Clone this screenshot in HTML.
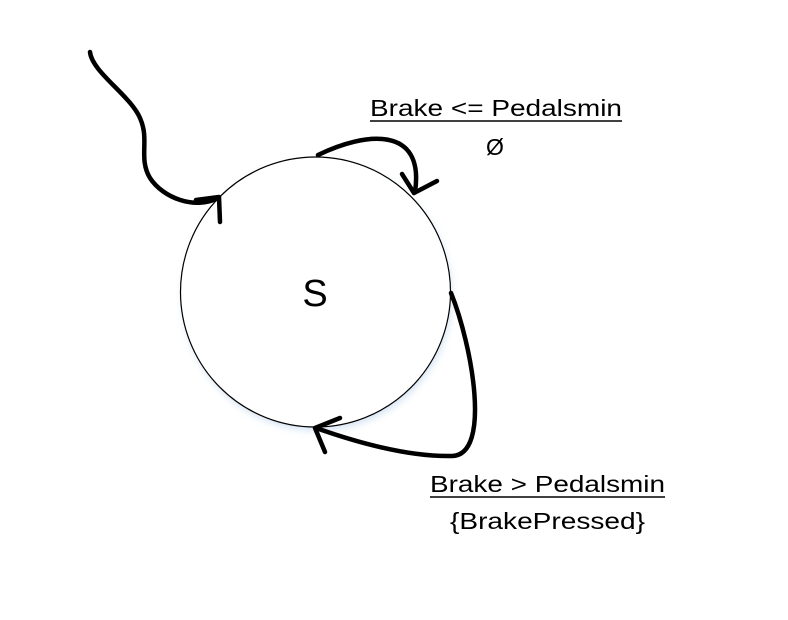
<!DOCTYPE html>
<html><head><meta charset="utf-8"><style>
html,body{margin:0;padding:0;background:#fff;width:788px;height:620px;overflow:hidden}
svg{display:block}
text{font-family:"Liberation Sans",sans-serif;fill:#000}
</style></head><body>
<svg width="788" height="620" viewBox="0 0 788 620">
<defs>
<filter id="sh" x="-20%" y="-20%" width="140%" height="140%">
<feGaussianBlur stdDeviation="4"/>
</filter>
</defs>
<circle cx="317" cy="296" r="134" fill="#bcd3ec" filter="url(#sh)" opacity="0.7"/>
<circle cx="315.5" cy="292" r="135" fill="#fff" stroke="#000" stroke-width="1.2"/>
<text x="315" y="306" font-size="38" text-anchor="middle">S</text>

<g fill="none" stroke="#000" stroke-width="4.5" stroke-linecap="round" stroke-linejoin="round">
<path d="M90,52 C92,72 130,95 140,118 C150,140 138,158 150,178 C163,198 195,210 218,198"/>
<path d="M196,200 L219,197 L220,222"/>
<path d="M318,155 C365,132 425,125 415,192"/>
<path d="M402,174 L414,193 L437,181"/>
<path d="M451,293 C472,345 492,455 452,456 C405,457 350,440 316,428"/>
<path d="M340,418 L315,428 L325,452"/>
</g>

<text x="370" y="116" font-size="23" textLength="252" lengthAdjust="spacingAndGlyphs">Brake &lt;= Pedalsmin</text>
<line x1="370" y1="121" x2="622" y2="121" stroke="#000" stroke-width="1.5"/>
<text x="495" y="155" font-size="23" text-anchor="middle">Ø</text>

<text x="430" y="492" font-size="23" textLength="235" lengthAdjust="spacingAndGlyphs">Brake &gt; Pedalsmin</text>
<line x1="430" y1="497" x2="665" y2="497" stroke="#000" stroke-width="1.5"/>
<text x="450" y="529" font-size="23" textLength="195" lengthAdjust="spacingAndGlyphs">{BrakePressed}</text>
</svg>
</body></html>
